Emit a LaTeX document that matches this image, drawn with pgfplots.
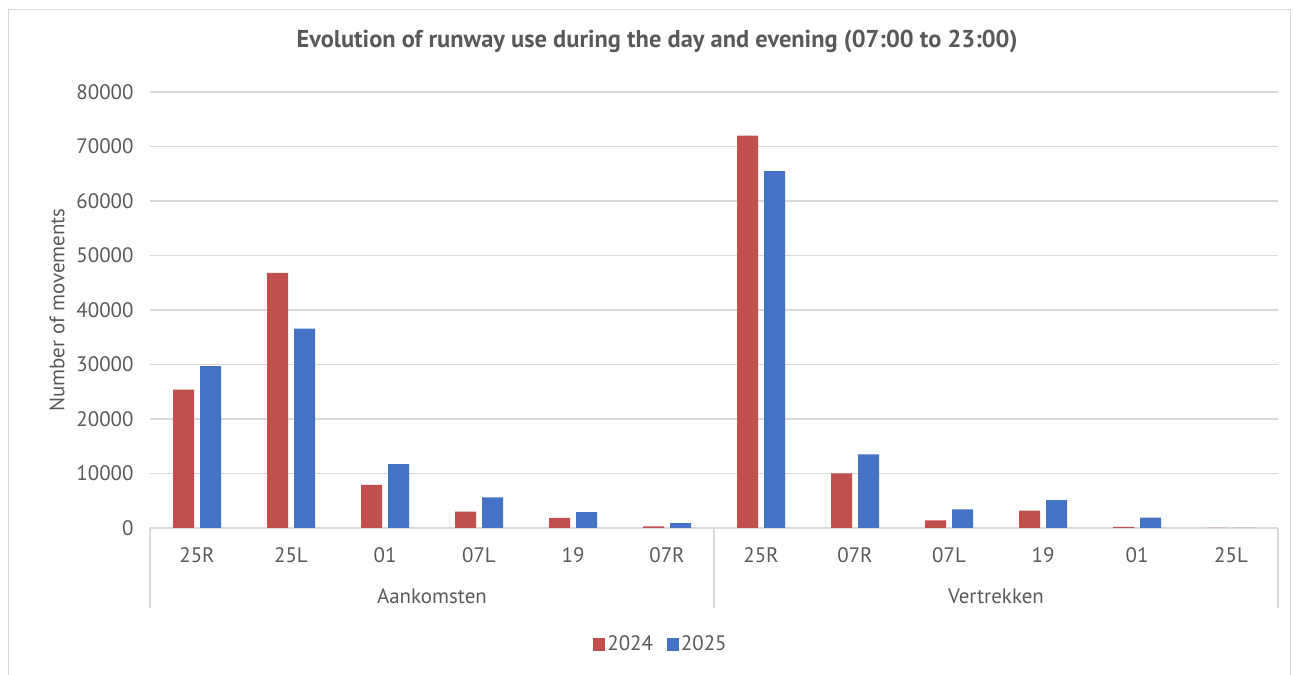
\documentclass[border=0pt]{standalone}
\usepackage{pgfplots}
\pgfplotsset{compat=1.18}
\usepackage{fontspec}
\setmainfont{PT Sans}
\definecolor{txt}{HTML}{595959}
\definecolor{gridc}{HTML}{D9D9D9}
\definecolor{c24}{HTML}{C0504D}
\definecolor{c25}{HTML}{4472C4}
\newcommand{\fs}{\fontsize{21}{24}\selectfont}
\begin{document}
\begin{tikzpicture}[x=1bp,y=1bp]
\path[use as bounding box] (0,0) rectangle (1294,675);
\draw[gridc, line width=1bp] (8,0) -- (8,665) -- (1290,665) -- (1290,0);
\begin{axis}[at={(150bp,147bp)}, anchor=south west, scale only axis,
  width=1128bp, height=436bp,
  ybar=6bp, bar width=21bp,
  xmin=-0.5, xmax=11.5, ymin=0, ymax=80000,
  enlargelimits=false, clip=false,
  scaled y ticks=false,
  ytick={0,10000,...,80000},
  xtick={0,...,11},
  xticklabels={25R,25L,01,07L,19,07R,25R,07R,07L,19,01,25L},
  ymajorgrids, grid style={gridc, line width=1.3bp},
  axis x line*=bottom, axis y line*=left,
  y axis line style={draw=none},
  x axis line style={draw=gridc, line width=1.3bp, -},
  major tick length=0pt,
  tick label style={font=\fs, text=txt},
  /pgf/number format/assume math mode=true,
  /pgf/number format/1000 sep={},
  xticklabel style={anchor=base, yshift=-35bp},
  yticklabel style={anchor=east, xshift=-13bp},
  ylabel={Number of movements},
  ylabel style={at={(axis description cs:-0.0824,0.5)}, anchor=center, font=\fs, text=txt},
  title={Evolution of runway use during the day and evening (07:00 to 23:00)},
  title style={at={(axis description cs:0.4495,1.103)}, anchor=center, font=\bfseries\fontsize{24.5}{28}\selectfont, text=txt},
  legend style={at={(0.453,-0.266)}, anchor=center, draw=none, legend columns=-1,
    font=\fs, text=txt,
    /tikz/every even column/.append style={column sep=12bp}},
  legend image code/.code={\fill[#1, draw=none] (0bp,-7bp) rectangle (12bp,6bp);},
]
\addplot[fill=c24, draw=none] coordinates {
(0,25400) (1,46800) (2,7900) (3,3000) (4,1850) (5,300)
(6,72000) (7,10000) (8,1400) (9,3200) (10,200) (11,0)};
\addplot[fill=c25, draw=none] coordinates {
(0,29700) (1,36600) (2,11700) (3,5600) (4,2900) (5,900)
(6,65500) (7,13500) (8,3400) (9,5100) (10,1900) (11,0)};
\legend{2024,2025}
\draw[gridc, line width=1.3bp] (axis cs:-0.5,0) -- ([yshift=-80bp]axis cs:-0.5,0);
\draw[gridc, line width=1.3bp] (axis cs:5.5,0) -- ([yshift=-80bp]axis cs:5.5,0);
\draw[gridc, line width=1.3bp] (axis cs:11.5,0) -- ([yshift=-80bp]axis cs:11.5,0);
\node[anchor=base, text=txt, font=\fs] at ([yshift=-76bp]axis cs:2.5,0) {Aankomsten};
\node[anchor=base, text=txt, font=\fs] at ([yshift=-76bp]axis cs:8.5,0) {Vertrekken};
\end{axis}
\end{tikzpicture}
\end{document}
